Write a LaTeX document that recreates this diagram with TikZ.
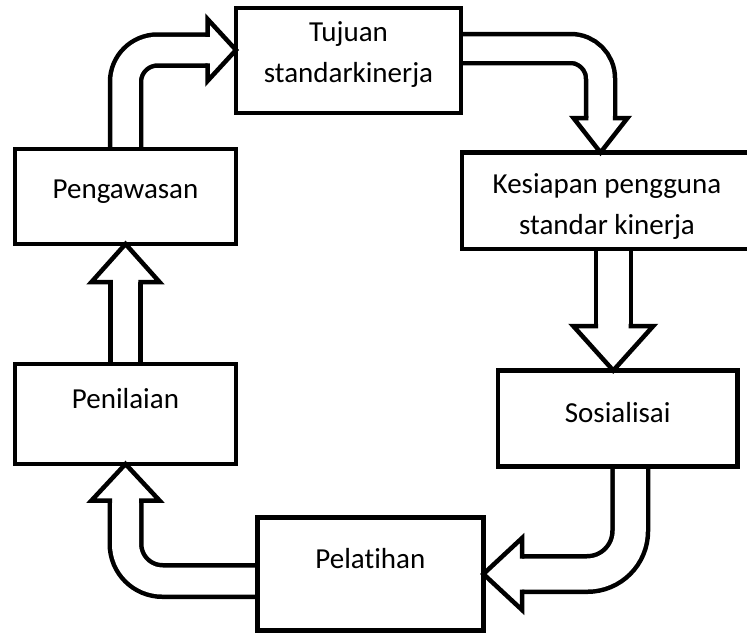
\documentclass[tikz,border=0pt]{standalone}
\usepackage{fontspec}
\setmainfont{Carlito}[Ligatures=NoCommon]
\usetikzlibrary{backgrounds}

\begin{document}
\begin{tikzpicture}[
    x=1pt, y=-1pt,
    line width=4.5pt,
    box/.style={draw, rectangle, outer sep=0pt, inner sep=0pt},
    boxtext/.style={align=center, font=\fontsize{29}{38}\selectfont},
    blockshaft/.style={double=white, double distance=#1, line width=4.5pt},
    % wing half width / length / half gap of the shaft
    pics/blockhead/.style n args={3}{code={
        \fill[white] (0,-#1) -- (#2,0) -- (0,#1) -- cycle;
        \draw[line width=4.5pt, line join=miter] (0,-#3) -- (0,-#1) -- (#2,0) -- (0,#1) -- (0,#3);
    }}
]
\useasboundingbox (0,0) rectangle (747,633);

\node[box, minimum width=225pt, minimum height=105pt,
      label={[boxtext, yshift=5.5pt]center:Tujuan\\[3pt]standarkinerja}] (tujuan) at (348.5, 60.5) {};
\node[box, minimum width=221pt, minimum height=95pt,
      label={[boxtext, yshift=5pt]center:Pengawasan}] (pengawasan) at (125.5, 196.5) {};
\node[box, minimum width=290pt, minimum height=96.5pt,
      label={[boxtext, yshift=-5.5pt]center:Kesiapan pengguna\\[3pt]standar kinerja}] (kesiapan) at (607, 200.75) {};
\node[box, minimum width=239.5pt, minimum height=96pt,
      label={[boxtext, yshift=6pt]center:Sosialisai}] (sosialisai) at (617.75, 418.5) {};
\node[box, minimum width=221pt, minimum height=100pt,
      label={[boxtext, yshift=15pt]center:Penilaian}] (penilaian) at (125.5, 414) {};
\node[box, minimum width=226pt, minimum height=113pt,
      label={[boxtext, yshift=15pt]center:Pelatihan}] (pelatihan) at (370.4, 574) {};

\coordinate (tip1) at ([yshift=10.5pt]tujuan.west);
\coordinate (tip2) at ([xshift=-6.5pt]kesiapan.north);
\coordinate (tip3) at ([xshift=-4.5pt]sosialisai.north);
\coordinate (tip4) at (pelatihan.east);
\coordinate (tip5) at (penilaian.south);
\coordinate (tip6) at (pengawasan.south);

% -- block arrows round the cycle --
\begin{scope}[on background layer]
  \draw[blockshaft=26.5pt, rounded corners=32pt] (pengawasan.north) |- ([xshift=-26.25pt]tip1);
  \pic at ([xshift=-28.5pt]tip1) {blockhead={31}{28.5}{13.25}};

  \draw[blockshaft=24.5pt, rounded corners=30pt] ([yshift=12pt]tujuan.east) -| ([yshift=32.25pt]tip2);
  \pic[rotate=-90] at ([yshift=34.5pt]tip2) {blockhead={27}{34.5}{12.25}};

  \draw[blockshaft=30.5pt] (tip3 |- kesiapan.south) -- ([yshift=42.25pt]tip3);
  \pic[rotate=-90] at ([yshift=44.5pt]tip3) {blockhead={40}{44.5}{15.25}};

  \draw[blockshaft=31pt, rounded corners=43pt] ([xshift=12.5pt]sosialisai.south) |- ([xshift=36.45pt]tip4);
  \pic[rotate=180] at ([xshift=38.7pt]tip4) {blockhead={36}{38.7}{15.5}};

  \draw[blockshaft=27pt, rounded corners=37pt] ([yshift=-7pt]pelatihan.west) -| ([yshift=-34.25pt]tip5);
  \pic[rotate=90] at ([yshift=-36.5pt]tip5) {blockhead={34}{36.5}{13.5}};

  \draw[blockshaft=25.5pt] (penilaian.north) -- ([yshift=-35.75pt]tip6);
  \pic[rotate=90] at ([yshift=-38pt]tip6) {blockhead={34}{38}{12.75}};
\end{scope}

\end{tikzpicture}
\end{document}
